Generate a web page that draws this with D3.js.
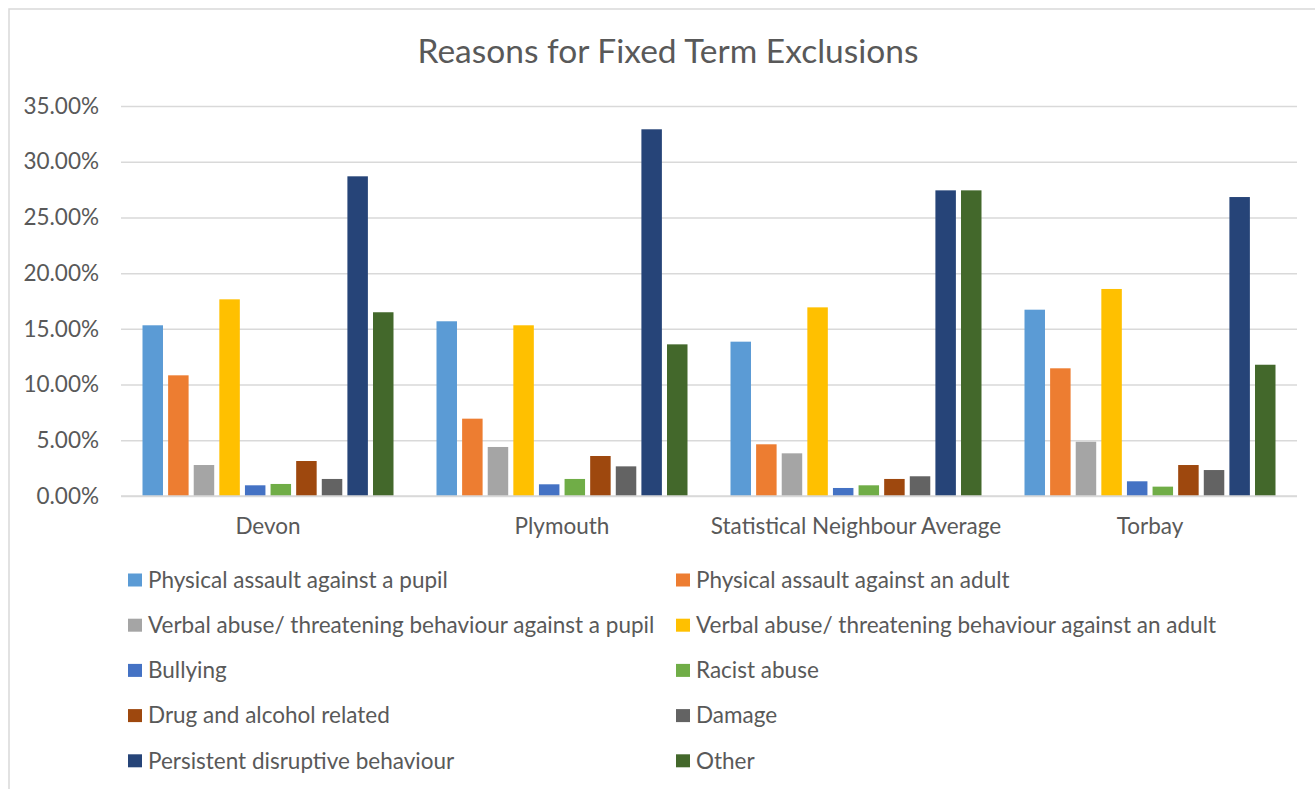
<!DOCTYPE html>
<html>
<head>
<meta charset="utf-8">
<script src="https://cdn.jsdelivr.net/npm/d3@7"></script>
<style>
  html, body { margin: 0; padding: 0; background: #fff; }
  svg { display: block; font-family: Lato, "Open Sans", sans-serif; }
</style>
</head>
<body>
<svg id="chart" width="1315" height="789"></svg>
<script>
const title = "Reasons for Fixed Term Exclusions";
const categories = ["Devon", "Plymouth", "Statistical Neighbour Average", "Torbay"];
const seriesNames = [
  "Physical assault against a pupil",
  "Physical assault against an adult",
  "Verbal abuse/ threatening behaviour against a pupil",
  "Verbal abuse/ threatening behaviour against an adult",
  "Bullying",
  "Racist abuse",
  "Drug and alcohol related",
  "Damage",
  "Persistent disruptive behaviour",
  "Other"
];
const seriesColors = ["#5B9BD5", "#ED7D31", "#A5A5A5", "#FFC000", "#4472C4",
                      "#70AD47", "#9E480E", "#636363", "#264478", "#43682B"];
// values per category, in series order (fractions)
const devon     = [0.1532, 0.1083, 0.0278, 0.1765, 0.0096, 0.0108, 0.0314, 0.0153, 0.2869, 0.1649];
const plymouth  = [0.1568, 0.0694, 0.0440, 0.1532, 0.0105, 0.0153, 0.0359, 0.0266, 0.3291, 0.1361];
const snAverage = [0.1385, 0.0464, 0.0383, 0.1693, 0.0072, 0.0096, 0.0153, 0.0177, 0.2743, 0.2743];
const torbay    = [0.1672, 0.1146, 0.0487, 0.1858, 0.0132, 0.0084, 0.0278, 0.0233, 0.2683, 0.1178];
const yTicks = [0, 0.05, 0.10, 0.15, 0.20, 0.25, 0.30, 0.35];

const valuesByCategory = [devon, plymouth, snAverage, torbay];

const svg = d3.select("#chart");
const textColor = "#595959";
const gridColor = "#D9D9D9";
const labelSize = 22.5;

// chart frame
svg.append("rect")
  .attr("x", 9).attr("y", 9)
  .attr("width", 1400).attr("height", 900)
  .attr("fill", "#fff")
  .attr("stroke", gridColor).attr("stroke-width", 1.5);

// title
svg.append("text")
  .attr("x", 668).attr("y", 63)
  .attr("text-anchor", "middle")
  .attr("fill", textColor)
  .attr("font-size", 33.5)
  .text(title);

const plot = { left: 121, right: 1297, top: 106, bottom: 496 };

const x0 = d3.scaleBand().domain(categories).range([plot.left, plot.right]).padding(0);
const x1 = d3.scaleBand().domain(seriesNames)
  .range([21.5, x0.bandwidth() - 21.5]).paddingInner(0.2).paddingOuter(0);
const y = d3.scaleLinear().domain([0, 0.35]).range([plot.bottom, plot.top]);

// gridlines + y axis labels
const yAxis = d3.axisLeft(y).tickValues(yTicks).tickFormat(d3.format(".2%"))
  .tickSize(-(plot.right - plot.left)).tickPadding(22);
const yg = svg.append("g").attr("transform", `translate(${plot.left},0)`).call(yAxis);
yg.select(".domain").remove();
yg.selectAll(".tick line").attr("stroke", gridColor).attr("stroke-width", 1.5);
yg.selectAll(".tick text").attr("fill", textColor).attr("font-size", labelSize)
  .attr("font-family", "Lato, sans-serif");

// bars
const groups = svg.append("g").selectAll("g")
  .data(categories)
  .join("g")
  .attr("transform", d => `translate(${x0(d)},0)`);

groups.selectAll("rect")
  .data((c, ci) => seriesNames.map((s, si) => ({ s, si, v: valuesByCategory[ci][si] })))
  .join("rect")
  .attr("x", d => x1(d.s))
  .attr("width", x1.bandwidth())
  .attr("y", d => y(d.v))
  .attr("height", d => y(0) - y(d.v))
  .attr("fill", d => seriesColors[d.si]);

// baseline
svg.append("line")
  .attr("x1", plot.left).attr("x2", plot.right)
  .attr("y1", y(0)).attr("y2", y(0))
  .attr("stroke", gridColor).attr("stroke-width", 1.5);

// x axis labels
const xAxis = d3.axisBottom(x0).tickSize(0).tickPadding(22);
const xg = svg.append("g").attr("transform", `translate(0,${plot.bottom})`).call(xAxis);
xg.select(".domain").remove();
xg.selectAll(".tick text").attr("fill", textColor).attr("font-size", labelSize)
  .attr("font-family", "Lato, sans-serif");

// legend
const legendCols = [128, 676];
const legendTop = 580, legendStep = 45.2;
const legend = svg.append("g").selectAll("g")
  .data(seriesNames)
  .join("g")
  .attr("transform", (d, i) => `translate(${legendCols[i % 2]},${legendTop + Math.floor(i / 2) * legendStep})`);
legend.append("rect")
  .attr("x", 0).attr("y", -6.5).attr("width", 14).attr("height", 13)
  .attr("fill", (d, i) => seriesColors[i]);
legend.append("text")
  .attr("x", 20).attr("y", 0).attr("dy", "0.35em")
  .attr("fill", textColor).attr("font-size", labelSize)
  .text(d => d);
</script>
</body>
</html>
